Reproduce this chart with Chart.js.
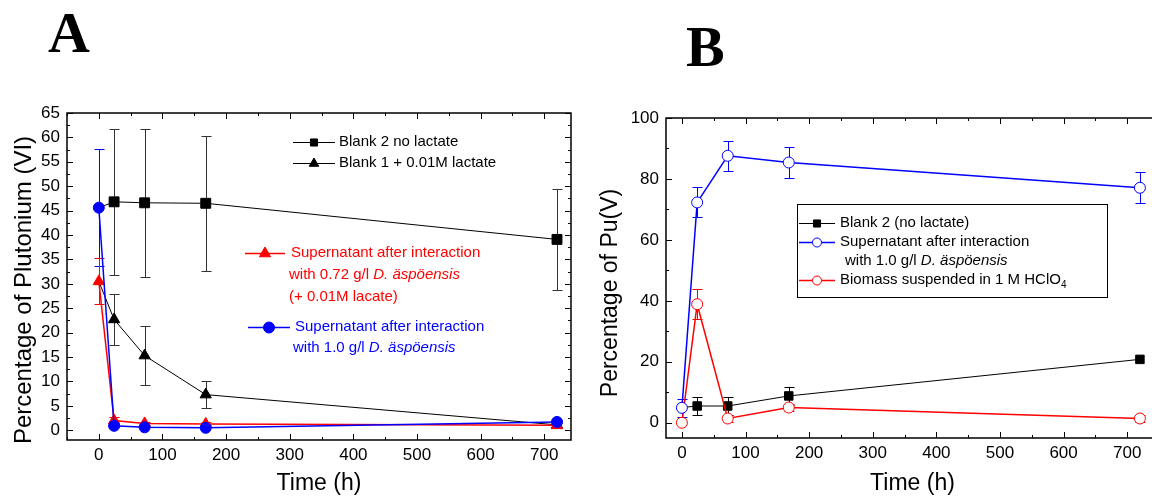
<!DOCTYPE html>
<html>
<head>
<meta charset="utf-8">
<script src="https://cdn.jsdelivr.net/npm/chart.js@4.4.0/dist/chart.umd.min.js"></script>
<style>
html, body { margin: 0; padding: 0; background: #fff; overflow: hidden; }
#wrap { position: relative; width: 1152px; height: 497px; overflow: hidden; }
canvas { position: absolute; top: 0; }
#chartA { left: 0; }
#chartB { left: 580px; }
.panel { position: absolute; font-family: "Liberation Serif", "Times New Roman", serif; font-weight: bold; font-size: 58px; line-height: 58px; color: #000; }
</style>
</head>
<body>
<div id="wrap">
  <canvas id="chartA" width="580" height="497"></canvas>
  <canvas id="chartB" width="590" height="497"></canvas>
  <div class="panel" style="left:48px;top:4px">A</div>
  <div class="panel" style="left:686px;top:18px">B</div>
</div>
<script>
'use strict';

// ---- panel A : Pu(VI) ----
const timeA = [0, 24, 72, 168, 720];
const blank2A = [45.6, 46.8, 46.6, 46.5, 39.1];
const blank2ErrA = [0, 14.9, 15.1, 13.8, 10.4];
const blank1A = [30.5, 22.7, 15.3, 7.3, 1.1];
const blank1ErrA = [0, 5.3, 6.0, 2.7, 0];
const redA = [30.5, 2.0, 1.4, 1.3, 1.0];
const redErrA = [4.7, 0.7, 0.3, 0.3, 0];
const blueA = [45.6, 0.9, 0.6, 0.5, 1.7];
const blueErrA = [12.0, 0.3, 0, 0, 0.3];
const xTicksA = [0, 100, 200, 300, 400, 500, 600, 700];
const yTicksA = [0, 5, 10, 15, 20, 25, 30, 35, 40, 45, 50, 55, 60, 65];

// ---- panel B : Pu(V) ----
const timeB = [0, 24, 72, 168, 720];
const blank2B = [5.0, 5.5, 5.5, 8.8, 20.8];
const blank2ErrB = [0, 3.0, 3.0, 3.0, 0];
const superB = [4.9, 72.3, 87.6, 85.4, 77.1];
const superErrB = [3.0, 4.9, 5.0, 5.0, 5.1];
const biomassB = [0, 38.9, 1.4, 5.0, 1.4];
const biomassErrB = [0, 5.0, 1.0, 1.0, 1.0];
const xTicksB = [0, 100, 200, 300, 400, 500, 600, 700];
const yTicksB = [0, 20, 40, 60, 80, 100];

const FONT = '"Liberation Sans", Arial, sans-serif';
Chart.defaults.font.family = FONT;
Chart.defaults.color = '#000';

function pts(xs, ys) {
    return xs.map((x, i) => ({x: x, y: ys[i]}));
}

function drawMarker(ctx, style, x, y, r, color, open) {
    ctx.save();
    ctx.fillStyle = open ? '#fff' : color;
    ctx.strokeStyle = color;
    ctx.lineWidth = 1;
    ctx.beginPath();
    if (style === 'rect') {
        let s = r * Math.SQRT1_2;
        ctx.rect(x - s, y - s, 2 * s, 2 * s);
    } else if (style === 'triangle') {
        ctx.moveTo(x, y - r);
        ctx.lineTo(x + r * 0.866, y + r * 0.5);
        ctx.lineTo(x - r * 0.866, y + r * 0.5);
        ctx.closePath();
    } else {
        ctx.arc(x, y, r, 0, Math.PI * 2);
    }
    ctx.fill();
    ctx.stroke();
    ctx.restore();
}

// text with italic / subscript runs
function drawRuns(ctx, runs, x, y, color) {
    let cx = x;
    ctx.fillStyle = color;
    ctx.textBaseline = 'middle';
    ctx.textAlign = 'left';
    for (let r of runs) {
        ctx.font = (r.it ? 'italic ' : '') + (r.size || 15) + 'px ' + FONT;
        ctx.fillText(r.t, cx, y + (r.dy || 0));
        cx += ctx.measureText(r.t).width;
    }
}

// error bars, drawn under the markers
const errorBars = {
    id: 'errorBars',
    beforeDatasetsDraw(chart) {
        const ctx = chart.ctx;
        const xs = chart.scales.x, ys = chart.scales.y;
        chart.data.datasets.forEach(ds => {
            if (!ds.errors) return;
            ctx.save();
            ctx.strokeStyle = ds.errorColor || ds.borderColor;
            ctx.lineWidth = 1;
            ds.data.forEach((p, j) => {
                let e = ds.errors[j];
                if (!e) return;
                let px = Math.round(xs.getPixelForValue(p.x)) + 0.5;
                let top = Math.round(ys.getPixelForValue(p.y + e)) + 0.5;
                let bot = Math.round(ys.getPixelForValue(p.y - e)) + 0.5;
                let c = ds.capWidth || 5;
                ctx.beginPath();
                ctx.moveTo(px, top); ctx.lineTo(px, bot);
                ctx.moveTo(px - c, top); ctx.lineTo(px + c, top);
                ctx.moveTo(px - c, bot); ctx.lineTo(px + c, bot);
                ctx.stroke();
            });
            ctx.restore();
        });
    }
};

// box round the plot with inward major and minor ticks on all four sides
function makeFrame(xMajor, xMinor, yMajor, yMinor) {
    return {
        id: 'frame',
        afterDatasetsDraw(chart) {
            const ctx = chart.ctx, a = chart.chartArea;
            const xs = chart.scales.x, ys = chart.scales.y;
            const isMajor = (v, m) => Math.abs(v / m - Math.round(v / m)) < 1e-6;
            ctx.save();
            ctx.strokeStyle = '#000';
            ctx.lineWidth = 1;
            ctx.beginPath();
            for (let v = Math.ceil(xs.min / xMinor) * xMinor; v <= xs.max; v += xMinor) {
                let px = Math.round(xs.getPixelForValue(v)) + 0.5;
                let len = isMajor(v, xMajor) ? 6 : 3;
                ctx.moveTo(px, a.bottom); ctx.lineTo(px, a.bottom - len);
                ctx.moveTo(px, a.top); ctx.lineTo(px, a.top + len);
            }
            for (let v = Math.ceil(ys.min / yMinor) * yMinor; v <= ys.max + 1e-9; v += yMinor) {
                let py = Math.round(ys.getPixelForValue(v)) + 0.5;
                let len = isMajor(v, yMajor) ? 6 : 3;
                ctx.moveTo(a.left, py); ctx.lineTo(a.left + len, py);
                ctx.moveTo(a.right, py); ctx.lineTo(a.right - len, py);
            }
            ctx.stroke();
            ctx.lineWidth = 1.5;
            ctx.strokeRect(a.left, a.top, a.right - a.left, a.bottom - a.top);
            ctx.restore();
        }
    };
}

// rotated y title, legend entries with their sample marks
function makeNotes(yTitle, legend) {
    return {
        id: 'notes',
        afterDraw(chart) {
            const ctx = chart.ctx;
            ctx.save();
            ctx.translate(yTitle.x, yTitle.y);
            ctx.rotate(-Math.PI / 2);
            ctx.font = yTitle.size + 'px ' + FONT;
            ctx.fillStyle = '#000';
            ctx.textAlign = 'center';
            ctx.textBaseline = 'middle';
            ctx.fillText(yTitle.text, 0, 0);
            ctx.restore();

            ctx.save();
            if (legend.box) {
                let b = legend.box;
                ctx.strokeStyle = '#000';
                ctx.lineWidth = 1;
                ctx.fillStyle = '#fff';
                ctx.fillRect(b.x, b.y, b.w, b.h);
                ctx.strokeRect(b.x + 0.5, b.y + 0.5, b.w, b.h);
            }
            for (let e of legend.entries) {
                let ds = chart.data.datasets[e.ds];
                ctx.strokeStyle = ds.borderColor;
                ctx.lineWidth = ds.borderWidth;
                ctx.beginPath();
                ctx.moveTo(e.x0, e.y + 0.5);
                ctx.lineTo(e.x1, e.y + 0.5);
                ctx.stroke();
                drawMarker(ctx, ds.pointStyle, (e.x0 + e.x1) / 2, e.y + 0.5, e.r, ds.borderColor, ds.openMarker);
                for (let row of e.rows) {
                    drawRuns(ctx, row.runs, row.x, row.y, ds.textColor || ds.borderColor);
                }
            }
            ctx.restore();
        }
    };
}

function axisOptions(min, max, tickValues, size, pad, extra) {
    return Object.assign({
        type: 'linear',
        min: min,
        max: max,
        grid: {display: false, drawTicks: false},
        border: {display: false},
        ticks: {font: {size: 17}, color: '#000', padding: pad, maxRotation: 0, autoSkip: false},
        afterBuildTicks: s => { s.ticks = tickValues.map(v => ({value: v})); },
        afterFit: s => { if (s.isHorizontal()) s.height = size; else s.width = size; }
    }, extra || {});
}

function lineSet(label, xs, ys, errs, color, style, radius, width, more) {
    return Object.assign({
        label: label,
        data: pts(xs, ys),
        errors: errs,
        borderColor: color,
        backgroundColor: color,
        borderWidth: width,
        pointStyle: style,
        pointRadius: radius,
        pointBorderWidth: 1,
        pointBorderColor: color,
        pointBackgroundColor: color,
        tension: 0,
        fill: false
    }, more || {});
}

// ---------- panel A ----------
const dsA = [
    lineSet('Supernatant after interaction with 1.0 g/l D. äspöensis', timeA, blueA, blueErrA,
        '#0000ff', 'circle', 5.5, 1.5, {capWidth: 5}),
    lineSet('Supernatant after interaction with 0.72 g/l D. äspöensis (+ 0.01M lacate)', timeA, redA, redErrA,
        '#ff0000', 'triangle', 6.5, 1.5, {capWidth: 5}),
    lineSet('Blank 2 no lactate', timeA, blank2A, blank2ErrA,
        '#000000', 'rect', [0, 7, 7, 7, 7], 1, {capWidth: 5, errorColor: '#333'}),
    lineSet('Blank 1 + 0.01M lactate', timeA, blank1A, blank1ErrA,
        '#000000', 'triangle', [0, 6.5, 6.5, 6.5, 6.5], 1, {capWidth: 5, errorColor: '#333'})
];

const legendA = {
    box: null,
    entries: [
        {ds: 2, x0: 293, x1: 335, y: 142, r: 5, rows: [
            {x: 339, y: 142, runs: [{t: 'Blank 2 no lactate'}]}]},
        {ds: 3, x0: 293, x1: 335, y: 163, r: 5.5, rows: [
            {x: 339, y: 163, runs: [{t: 'Blank 1 + 0.01M lactate'}]}]},
        {ds: 1, x0: 245, x1: 285, y: 253, r: 6.5, rows: [
            {x: 291, y: 253, runs: [{t: 'Supernatant after interaction'}]},
            {x: 289, y: 275, runs: [{t: 'with 0.72 g/l '}, {t: 'D. äspöensis', it: true}]},
            {x: 289, y: 297, runs: [{t: '(+ 0.01M lacate)'}]}]},
        {ds: 0, x0: 248, x1: 290, y: 327, r: 5.5, rows: [
            {x: 295, y: 327, runs: [{t: 'Supernatant after interaction'}]},
            {x: 293, y: 348, runs: [{t: 'with 1.0 g/l '}, {t: 'D. äspöensis', it: true}]}]}
    ]
};

new Chart(document.getElementById('chartA'), {
    type: 'line',
    data: {datasets: dsA},
    options: {
        responsive: false,
        animation: false,
        events: [],
        layout: {padding: {left: 0, top: 113, right: 9, bottom: 0}},
        plugins: {legend: {display: false}, tooltip: {enabled: false}},
        scales: {
            x: axisOptions(-50, 742, xTicksA, 57, 5, {
                title: {display: true, text: 'Time (h)', font: {size: 23}, color: '#000', padding: {top: 0, bottom: 0}}
            }),
            y: axisOptions(-2, 65, yTicksA, 67, 7)
        }
    },
    plugins: [errorBars, makeFrame(100, 50, 5, 2.5),
        makeNotes({text: 'Percentage of Plutonium (VI)', x: 24, y: 290, size: 24}, legendA)]
});

// ---------- panel B ----------
const dsB = [
    lineSet('Supernatant after interaction with 1.0 g/l D. äspöensis', timeB, superB, superErrB,
        '#0000ff', 'circle', 5.5, 1.5, {capWidth: 5, pointBackgroundColor: '#fff', openMarker: true, textColor: '#000'}),
    lineSet('Biomass suspended in 1 M HClO4', timeB, biomassB, biomassErrB,
        '#ff0000', 'circle', 5.5, 1.5, {capWidth: 5, pointBackgroundColor: '#fff', openMarker: true, textColor: '#000'}),
    lineSet('Blank 2 (no lactate)', timeB, blank2B, blank2ErrB,
        '#000000', 'rect', [0, 6, 6, 6, 6], 1, {capWidth: 5})
];

const legendB = {
    box: {x: 217, y: 204, w: 310, h: 93},
    entries: [
        {ds: 2, x0: 219, x1: 255, y: 223, r: 5, rows: [
            {x: 260, y: 223, runs: [{t: 'Blank 2 (no lactate)'}]}]},
        {ds: 0, x0: 219, x1: 255, y: 242, r: 4.5, rows: [
            {x: 260, y: 242, runs: [{t: 'Supernatant after interaction'}]},
            {x: 265, y: 261, runs: [{t: 'with 1.0 g/l '}, {t: 'D. äspöensis', it: true}]}]},
        {ds: 1, x0: 219, x1: 255, y: 280, r: 4.5, rows: [
            {x: 260, y: 280, runs: [{t: 'Biomass suspended in 1 M HClO'}, {t: '4', size: 10, dy: 5}]}]}
    ]
};

new Chart(document.getElementById('chartB'), {
    type: 'line',
    data: {datasets: dsB},
    options: {
        responsive: false,
        animation: false,
        events: [],
        layout: {padding: {left: 0, top: 118, right: 11, bottom: 0}},
        plugins: {legend: {display: false}, tooltip: {enabled: false}},
        scales: {
            x: axisOptions(-25, 750, xTicksB, 59, 5, {
                title: {display: true, text: 'Time (h)', font: {size: 23}, color: '#000', padding: {top: 0, bottom: 0}}
            }),
            y: axisOptions(-5, 100, yTicksB, 86, 7)
        }
    },
    plugins: [errorBars, makeFrame(100, 50, 20, 10),
        makeNotes({text: 'Percentage of Pu(V)', x: 31, y: 293, size: 23}, legendB)]
});
</script>
</body>
</html>
